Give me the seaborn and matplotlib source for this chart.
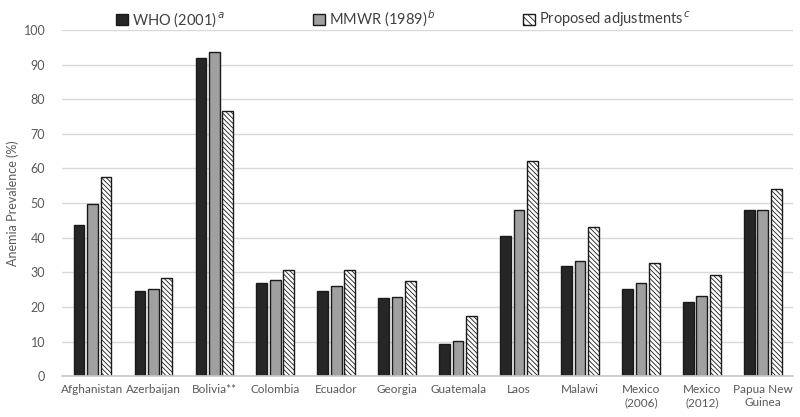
import matplotlib
matplotlib.use("Agg")
import matplotlib.pyplot as plt
import seaborn as sns
import pandas as pd

countries = ["Afghanistan", "Azerbaijan", "Bolivia**", "Colombia", "Ecuador", "Georgia",
             "Guatemala", "Laos", "Malawi", "Mexico\n(2006)", "Mexico\n(2012)", "Papua New\nGuinea"]
who_2001 = [43.6, 24.5, 92.0, 26.8, 24.6, 22.5, 9.3, 40.6, 31.7, 25.1, 21.3, 47.9]
mmwr_1989 = [49.6, 25.3, 93.7, 27.7, 26.0, 22.8, 10.2, 48.1, 33.4, 27.0, 23.2, 48.1]
proposed = [57.5, 28.4, 76.7, 30.7, 30.7, 27.6, 17.5, 62.3, 43.0, 32.6, 29.3, 54.1]
series = ["WHO (2001)", "MMWR (1989)", "Proposed adjustments"]
sup = ["a", "b", "c"]
yticks = list(range(0, 101, 10))

rows = []
for s, vals in zip(series, [who_2001, mmwr_1989, proposed]):
    for c, v in zip(countries, vals):
        rows.append({"Country": c, "Series": s, "Value": v})
df = pd.DataFrame(rows)

sns.set_theme(style="white")
plt.rcParams["font.family"] = ["Lato", "DejaVu Sans"]
plt.rcParams["hatch.linewidth"] = 0.6

fig = plt.figure(figsize=(8, 4.17), dpi=100)
ax = fig.add_axes([0.0775, 0.098, 0.914, 0.83])

palette = {"WHO (2001)": "#262626", "MMWR (1989)": "#a0a0a0", "Proposed adjustments": "white"}
sns.barplot(data=df, x="Country", y="Value", hue="Series", palette=palette,
            width=0.66, gap=0.2, edgecolor="#1a1a1a", linewidth=1.0,
            saturation=1, ax=ax, legend=False)

# hatch the third series
for bar in ax.containers[2]:
    bar.set_hatch("\\\\\\\\\\\\\\")

ax.set_ylim(0, 100)
ax.set_yticks(yticks)
ax.set_xlim(-0.5, len(countries) - 0.5)
ax.yaxis.grid(True, color="#d9d9d9", linewidth=1)
ax.set_axisbelow(True)
for sp in ["top", "right", "left"]:
    ax.spines[sp].set_visible(False)
ax.spines["bottom"].set_color("#c8c8c8")
ax.tick_params(axis="both", length=0, colors="#595959")
ax.tick_params(axis="y", pad=12, labelsize=9)
ax.tick_params(axis="x", pad=6, labelsize=8.5)
ax.set_xlabel("")
ax.set_ylabel("Anemia Prevalence (%)", color="#595959", fontsize=9, labelpad=3)

from matplotlib.patches import Patch
handles = [Patch(facecolor="#262626", edgecolor="#1a1a1a"),
           Patch(facecolor="#a0a0a0", edgecolor="#1a1a1a"),
           Patch(facecolor="white", edgecolor="#1a1a1a", hatch="\\\\\\\\\\")]
labels = [f"{s}$^{{\\,\\mathit{{{l}}}}}$" for s, l in zip(series, sup)]
leg = fig.legend(handles, labels, loc="center", bbox_to_anchor=(0.505, 0.955), ncol=3,
                 frameon=False, fontsize=10.5, columnspacing=6.0, handlelength=0.8,
                 handleheight=0.8, handletextpad=0.3)
for t in leg.get_texts():
    t.set_color("#404040")

fig.savefig("out.png", dpi=100)
